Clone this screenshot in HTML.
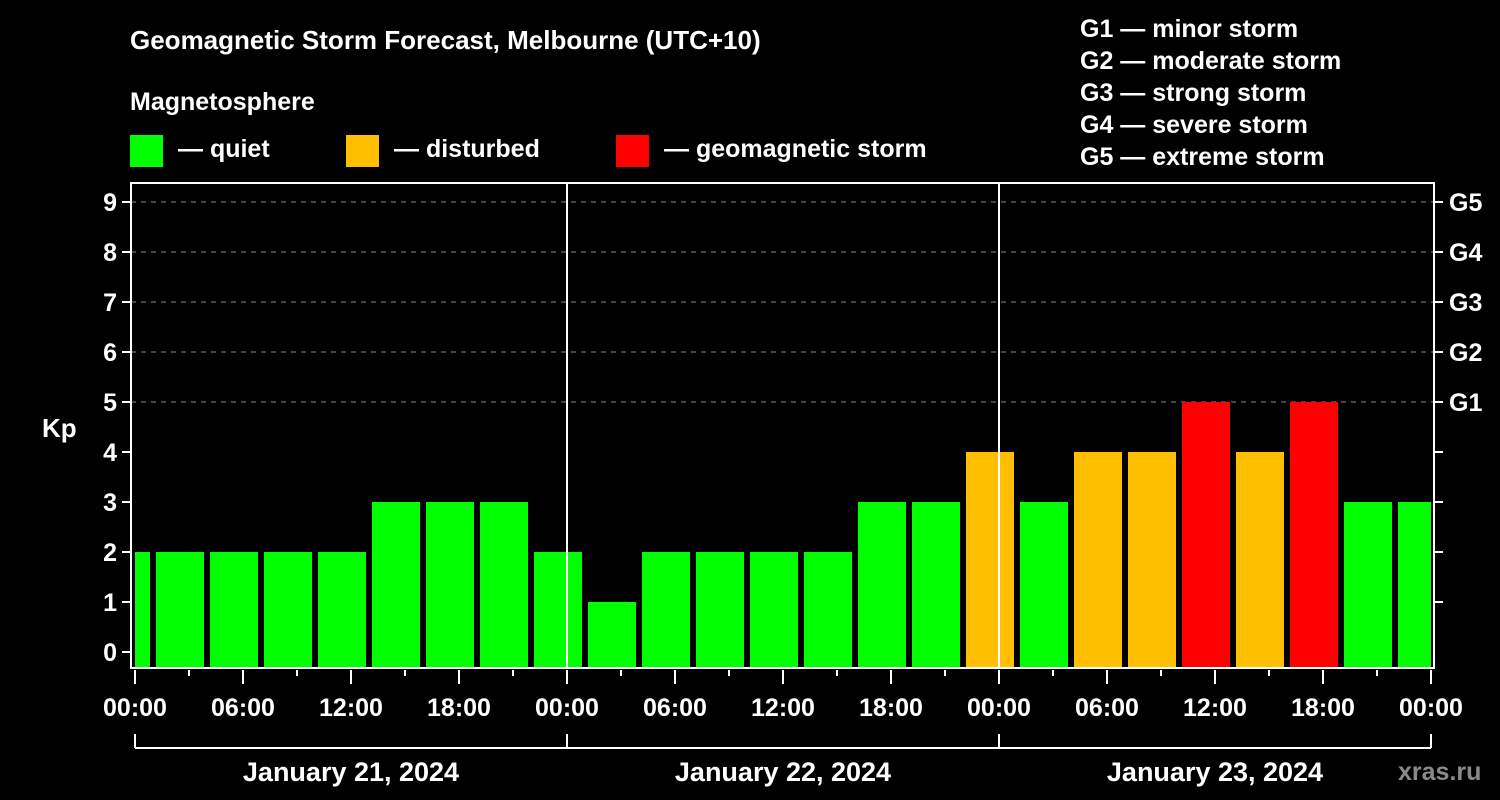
<!DOCTYPE html>
<html><head><meta charset="utf-8"><style>
body{margin:0;background:#000;width:1500px;height:800px;overflow:hidden}
svg{display:block;font-family:"Liberation Sans",sans-serif;font-weight:bold;fill:#fff}
</style></head><body>
<svg id="c" width="1500" height="800">
<text x="130" y="49" font-size="26">Geomagnetic Storm Forecast, Melbourne (UTC+10)</text>
<text x="130" y="110" font-size="25">Magnetosphere</text>
<g><rect x="130" y="135" width="33" height="32" fill="#00ff00"/><text x="178" y="157" font-size="25">— quiet</text></g>
<g><rect x="346" y="135" width="33" height="32" fill="#ffbf00"/><text x="394" y="157" font-size="25">— disturbed</text></g>
<g><rect x="616" y="135" width="33" height="32" fill="#ff0000"/><text x="664" y="157" font-size="25">— geomagnetic storm</text></g>
<g font-size="25">
<text x="1080" y="37">G1 — minor storm</text><text x="1080" y="69">G2 — moderate storm</text><text x="1080" y="101">G3 — strong storm</text><text x="1080" y="133">G4 — severe storm</text><text x="1080" y="165">G5 — extreme storm</text></g>
<text x="42" y="437" font-size="26">Kp</text>
<text x="1398" y="780" font-size="25" fill="#888" style="fill:#8a8a8a">xras.ru</text>
<g id="plot"></g>
</svg>
<script>
const kpValues=[2,2,2,2,2,3,3,3,2,1,2,2,2,2,3,3,4,3,4,4,5,4,5,3,3];
const yTicks=[0,1,2,3,4,5,6,7,8,9];
const gLabels=["G1","G2","G3","G4","G5"];
const xTickLabels=["00:00","06:00","12:00","18:00","00:00","06:00","12:00","18:00","00:00","06:00","12:00","18:00","00:00"];
const dayLabels=["January 21, 2024","January 22, 2024","January 23, 2024"];
const L=131,R=1434,T=183,B=668,X0=135,PXH=18;
const y=v=>652-50*v, x=h=>X0+h*PXH;
const NS="http://www.w3.org/2000/svg",g=document.getElementById('plot');
function mk(t,a,p){const e=document.createElementNS(NS,t);for(const k in a)e.setAttribute(k,a[k]);(p||g).appendChild(e);return e;}
// grid
for(let v=5;v<=9;v++){const e=mk('line',{x1:L,x2:R,y1:y(v),y2:y(v),stroke:'#888','stroke-dasharray':'5,5','stroke-width':1});

}
// bars
kpValues.forEach((v,i)=>{const c=-0.5+3*i;let x1=Math.max(x(c)-24,L+4),x2=Math.min(x(c)+24,R-3);
const col=v>=5?'#ff0000':v>=4?'#ffbf00':'#00ff00';
const e=mk('rect',{x:x1,y:y(v),width:x2-x1,height:B-y(v),fill:col});

});
// day lines
[24,48].forEach(h=>{const e=mk('line',{x1:x(h),x2:x(h),y1:T,y2:B,stroke:'#fff','stroke-width':2});

});
// frame
const fr=mk('rect',{x:L,y:T,width:R-L,height:B-T,fill:'none',stroke:'#fff','stroke-width':2});


// y ticks
yTicks.forEach(v=>{mk('line',{x1:L-9,x2:L,y1:y(v),y2:y(v),stroke:'#fff','stroke-width':2});
if(v>0)mk('line',{x1:R,x2:R+9,y1:y(v),y2:y(v),stroke:'#fff','stroke-width':2});
const t=mk('text',{x:L-14,y:y(v)+9,'font-size':25,'text-anchor':'end'});t.textContent=v;

});
gLabels.forEach((s,i)=>{const t=mk('text',{x:1449,y:y(5+i)+9,'font-size':25});t.textContent=s;

});
// x ticks
for(let h=0;h<=72;h+=3){const major=h%6===0;mk('line',{x1:x(h),x2:x(h),y1:B+2,y2:B+(major?16:8),stroke:'#fff','stroke-width':2});}
xTickLabels.forEach((s,i)=>{const t=mk('text',{x:x(i*6),y:716,'font-size':25,'text-anchor':'middle'});t.textContent=s;

});
// day bracket
mk('line',{x1:x(0),x2:x(72),y1:748,y2:748,stroke:'#fff','stroke-width':2});
[0,24,48,72].forEach(h=>mk('line',{x1:x(h),x2:x(h),y1:734,y2:748,stroke:'#fff','stroke-width':2}));
dayLabels.forEach((s,i)=>{const t=mk('text',{x:x(i*24+12),y:781,'font-size':27,'text-anchor':'middle'});t.textContent=s;

});
</script>
</body></html>
